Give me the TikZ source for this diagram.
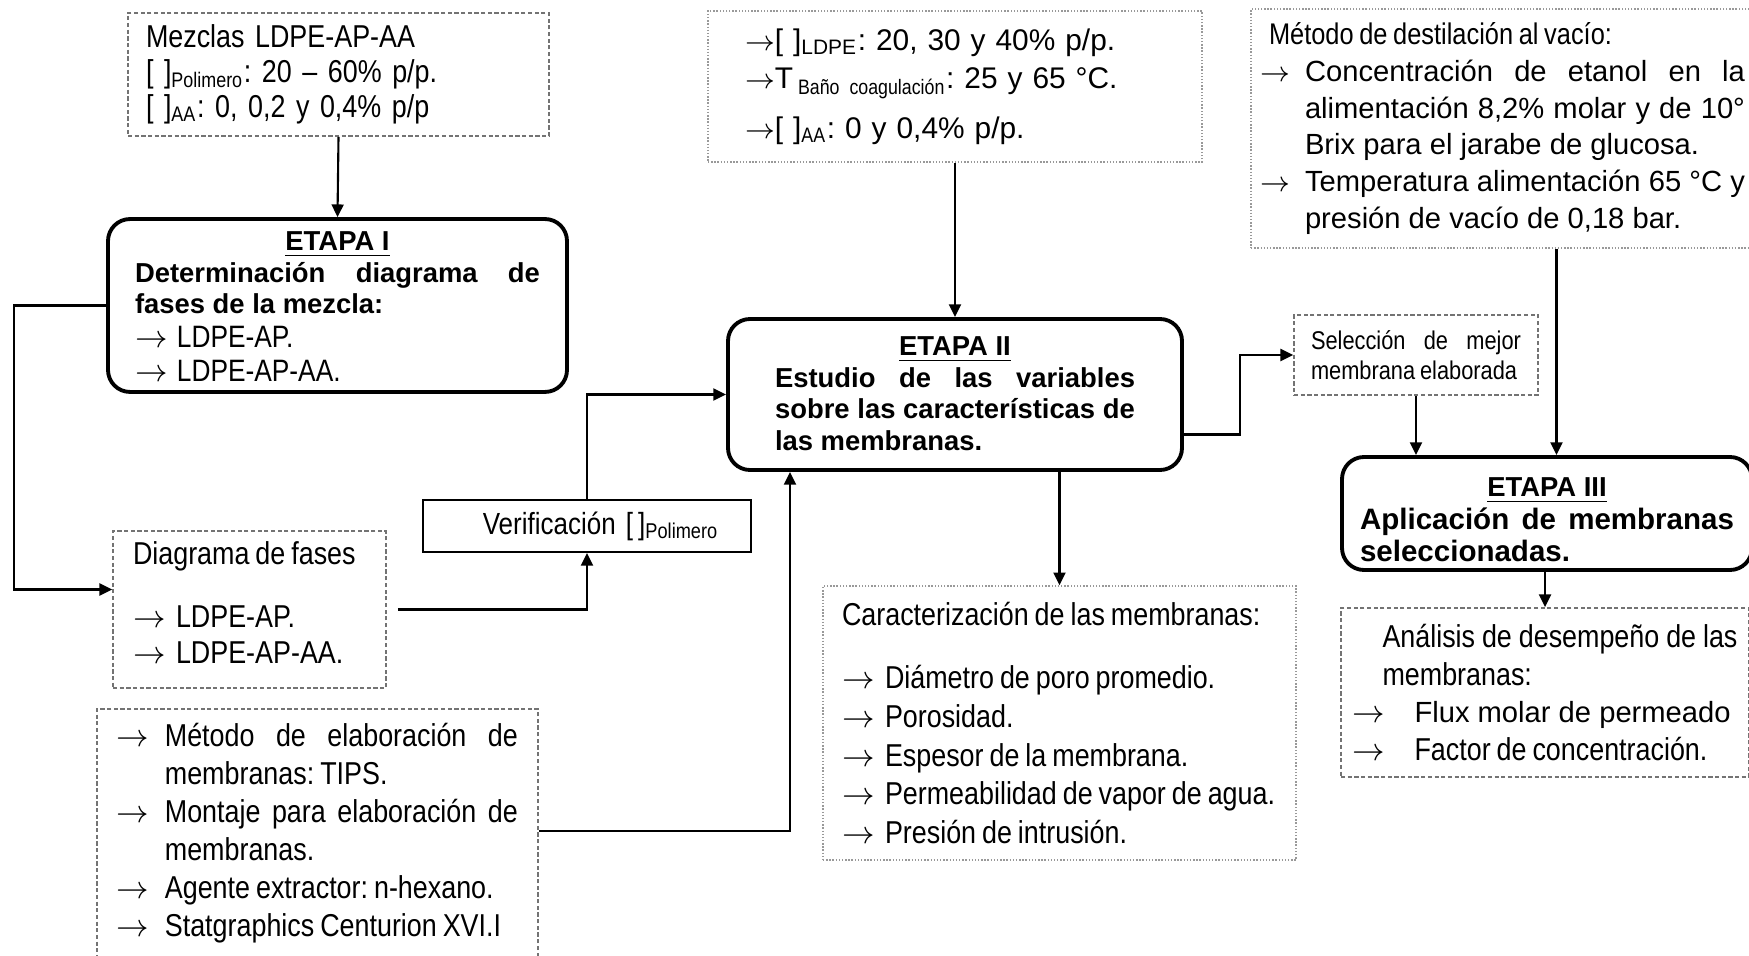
\documentclass[tikz,border=0pt]{standalone}
\usepackage{fontspec}
\setmainfont{Liberation Sans}
\newfontfamily\narrowfont[FakeStretch=0.85, WordSpace=0.8]{Liberation Sans}
\usetikzlibrary{arrows.meta}

\hyphenpenalty=10000
\exhyphenpenalty=10000
\frenchspacing

\newcommand{\corchetes}{[\,\,]}
\newcommand{\negrita}{\normalfont\bfseries\fontsize{7.8}{9.0}\selectfont}
\newcommand{\titulo}[1]{\par{\centering\negrita\underline{#1}\par}}
\newcommand{\flecha}[2][0.43cm]{\par\noindent\hangindent=#1\hangafter=1\makebox[#1][l]{$\rightarrow$}#2\par}
\newcommand{\espacio}[1]{\par\vspace{#1}\nointerlineskip\hbox{}}

\begin{document}
\begin{tikzpicture}[line width=0.6pt, >={Triangle[length=3.6pt,width=3.4pt]},
    etapa/.style={draw, line width=1.1pt, rounded corners=0.22cm, align=justify, inner ysep=0pt,
        font=\narrowfont\fontsize{8.8}{9.6}\selectfont},
    guiones/.style={draw=black!55, dash pattern=on 1.2pt off 0.7pt, line width=0.5pt, align=justify, inner ysep=0pt},
    puntos/.style={draw=black!40, dash pattern=on 0.4pt off 0.5pt, line width=0.4pt, align=justify, inner ysep=0pt}]
        \useasboundingbox (0, 0) rectangle (17.49, 9.55);

        % etapa I
        \node[guiones, minimum width=4.21cm, minimum height=1.23cm, text width=3.85cm, inner xsep=0.18cm, align=left,
            font=\narrowfont\fontsize{9}{10}\selectfont] (Mezclas) at (3.385, 8.805)
            {Mezclas LDPE-AP-AA\\ \corchetes\textsubscript{Polimero}: 20 – 60\% p/p.\\ \corchetes\textsubscript{AA}: 0, 0,2 y 0,4\% p/p};
        \node[etapa, minimum width=4.59cm, minimum height=1.69cm, text width=4.05cm, inner xsep=0.27cm] (EtapaI) at (3.375, 6.495)
            {\titulo{ETAPA I}{\negrita Determinación diagrama de fases de la mezcla:\par}\flecha[0.42cm]{LDPE-AP.}\flecha[0.42cm]{LDPE-AP-AA.}\espacio{3pt}};
        \draw[->] (Mezclas.south) -- (EtapaI.north);

        \node[guiones, minimum width=2.73cm, minimum height=1.57cm, text width=2.33cm, inner xsep=0.2cm,
            font=\narrowfont\fontsize{9}{10.2}\selectfont] (Diagrama) at (2.495, 3.455)
            {Diagrama de fases\par\vspace{8pt}\flecha{LDPE-AP.}\flecha{LDPE-AP-AA.}\espacio{4pt}};
        \draw[->] (EtapaI.west) -- ++(-0.92, 0) |- ([yshift=0.2cm]Diagrama.west);

        \node[draw, line width=0.5pt, minimum width=3.28cm, minimum height=0.5cm, text width=2.64cm, inner xsep=0.32cm, align=right,
            font=\narrowfont\fontsize{8.7}{10}\selectfont] (Verificacion) at (5.87, 4.29)
            {Verificación [\,]\textsubscript{Polimero}};
        \draw[->] ([xshift=0.11cm]Diagrama.east) -| (Verificacion.south);

        \node[guiones, anchor=north west, text width=4.01cm, inner xsep=0.2cm, inner ysep=0cm,
            font=\narrowfont\fontsize{9}{10.8}\selectfont] (Metodo) at (0.96, 2.47)
            {\flecha[0.48cm]{Método de elaboración de membranas: TIPS.}\flecha[0.48cm]{Montaje para elaboración de membranas.}%
             \flecha[0.48cm]{Agente extractor: n-hexano.}\flecha[0.48cm]{Statgraphics Centurion XVI.I}\espacio{0.6cm}};

        % etapa II
        \node[puntos, minimum width=4.94cm, minimum height=1.51cm, text width=4.2cm, inner xsep=0.37cm, align=left,
            font=\fontsize{8.5}{11}\selectfont] (Variables) at (9.55, 8.685)
            {$\rightarrow$\corchetes\textsubscript{LDPE}: 20, 30 y 40\% p/p.\\
             $\rightarrow$T\,\textsubscript{\narrowfont Baño coagulación}: 25 y 65 °C.\\[3pt]
             $\rightarrow$\corchetes\textsubscript{\narrowfont AA}: 0 y 0,4\% p/p.};
        \node[etapa, minimum width=4.54cm, minimum height=1.51cm, text width=3.6cm, inner xsep=0.47cm] (EtapaII) at (9.55, 5.605)
            {\titulo{ETAPA II}{\negrita Estudio de las variables\linebreak sobre las características de\linebreak las membranas.\par}\espacio{4pt}};
        \draw[->] (Variables.south) -- (EtapaII.north);
        \draw[->] (Verificacion.north) |- (EtapaII.west);
        \draw[->] ([yshift=-1.23cm]Metodo.north east) -| ([xshift=-1.65cm]EtapaII.south);

        \node[puntos, minimum width=4.73cm, minimum height=2.74cm, text width=4.35cm, inner xsep=0.19cm,
            font=\narrowfont\fontsize{9}{11}\selectfont] (Caracterizacion) at (10.595, 2.32)
            {Caracterización de las membranas:\par\vspace{7pt}\flecha{Diámetro de poro promedio.}\flecha{Porosidad.}%
             \flecha{Espesor de la membrana.}\flecha{Permeabilidad de vapor de agua.}\flecha{Presión de intrusión.}};
        \draw[->] (EtapaII.south -| Caracterizacion.north) -- (Caracterizacion.north);

        % etapa III
        \node[guiones, minimum width=2.44cm, minimum height=0.8cm, text width=2.1cm, inner xsep=0.17cm,
            font=\narrowfont\fontsize{7.3}{8.5}\selectfont] (Seleccion) at (14.16, 6.0)
            {Selección de mejor\linebreak membrana elaborada};
        \draw[->] ([yshift=-0.4cm]EtapaII.east) -- ++(0.56, 0) |- (Seleccion.west);

        \node[puntos, minimum width=5.03cm, minimum height=2.39cm, text width=4.85cm, inner xsep=0.09cm,
            font=\fontsize{8.3}{10.5}\selectfont] (Destilacion) at (15.025, 8.265)
            {{\narrowfont\fontsize{8.5}{10.5}\selectfont\hspace*{0.09cm}Método de destilación al vacío:\par}%
             \flecha[0.45cm]{Concentración de etanol en la\linebreak alimentación 8,2\% molar y de 10°\linebreak Brix para el jarabe de glucosa.}%
             \flecha[0.45cm]{Temperatura alimentación 65 °C y\linebreak presión de vacío de 0,18 bar.}};

        \node[etapa, minimum width=4.10cm, minimum height=1.13cm, text width=3.74cm, inner xsep=0.18cm] (EtapaIII) at (15.47, 4.415)
            {\titulo{ETAPA III}{\normalfont\bfseries\fontsize{8.4}{9.2}\selectfont Aplicación de membranas\linebreak seleccionadas.\par}};
        \draw[->] (Seleccion.south) -- (Seleccion.south |- EtapaIII.north);
        \draw[->] ([xshift=0.54cm]Destilacion.south) -- ([xshift=0.54cm]Destilacion.south |- EtapaIII.north);

        \node[guiones, minimum width=4.08cm, minimum height=1.69cm, text width=3.85cm, inner xsep=0.04cm,
            font=\narrowfont\fontsize{9}{10.8}\selectfont] (Analisis) at (15.45, 2.625)
            {{\leftskip=0.3cm Análisis de desempeño de las membranas:\par}%
             \flecha[0.62cm]{{\normalfont\fontsize{8.3}{10.8}\selectfont Flux molar de permeado}}\flecha[0.62cm]{Factor de concentración.}};
        \draw[->] (EtapaIII.south -| Analisis.north) -- (Analisis.north);
    \end{tikzpicture}
\end{document}
